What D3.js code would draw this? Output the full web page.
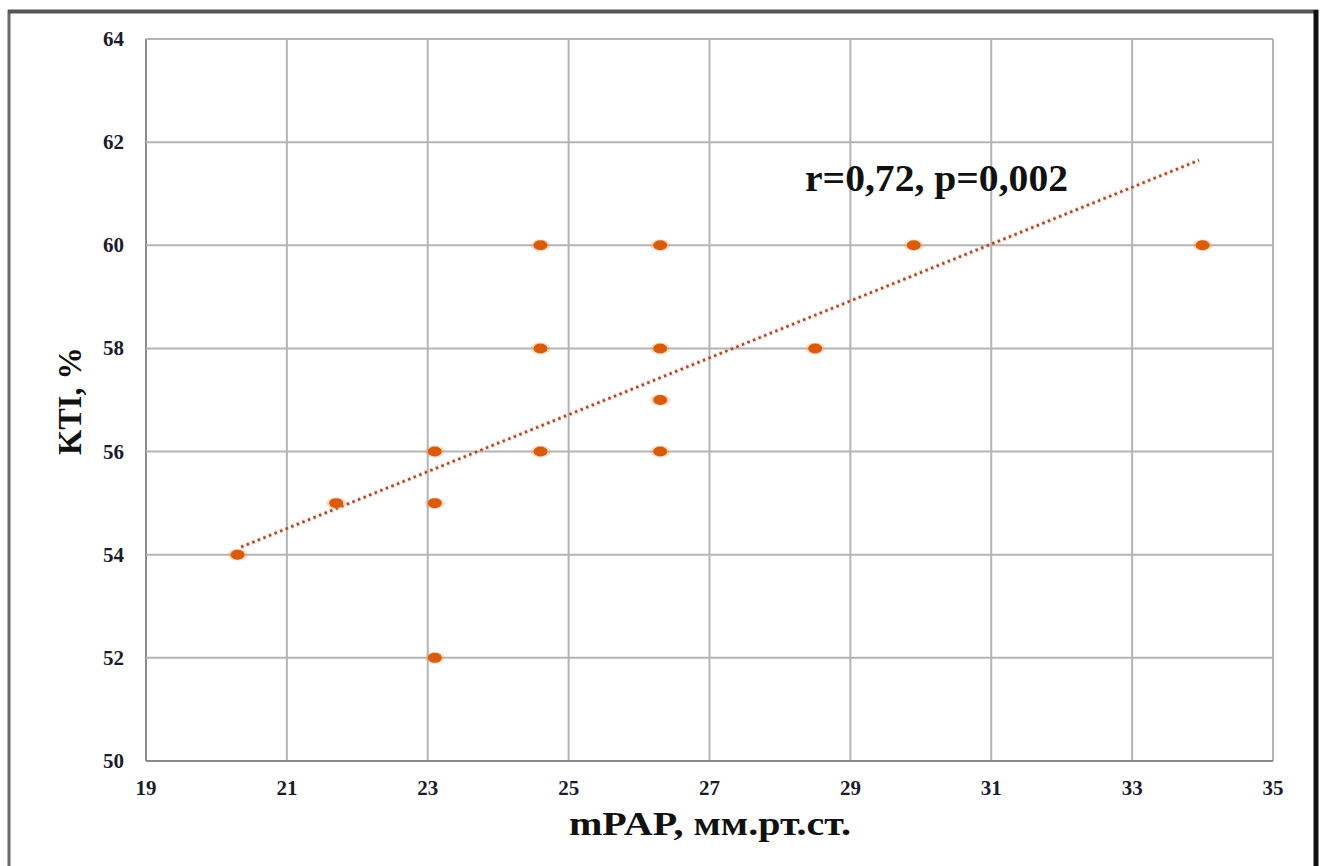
<!DOCTYPE html>
<html>
<head>
<meta charset="utf-8">
<script src="https://cdn.jsdelivr.net/npm/d3@7"></script>
<style>
  body { margin: 0; background: #fff; }
  svg { display: block; }
</style>
</head>
<body>
<div id="chart"></div>
<script>
// data
var mpap = [20.3, 21.7, 23.1, 23.1, 23.1, 24.6, 24.6, 24.6, 26.3, 26.3, 26.3, 26.3, 28.5, 29.9, 34.0];
var kti  = [54, 55, 56, 55, 52, 60, 58, 56, 60, 58, 57, 56, 58, 60, 60];
var trendX = [20.35, 33.95];
var trendY = [54.15, 61.65];
var xTicks = [19, 21, 23, 25, 27, 29, 31, 33, 35];
var yTicks = [50, 52, 54, 56, 58, 60, 62, 64];

var width = 1324, height = 866;
var margin = {left: 146, top: 39, right: 51, bottom: 105};

var svg = d3.select('#chart').append('svg')
  .attr('width', width)
  .attr('height', height);

// outer frame
svg.append('line').attr('x1', 9).attr('x2', 9).attr('y1', 10).attr('y2', height)
  .style('stroke', '#6a6a6a').style('stroke-width', 3);
svg.append('line').attr('x1', 8).attr('x2', 1318).attr('y1', 11.5).attr('y2', 11.5)
  .style('stroke', '#555').style('stroke-width', 4);
svg.append('line').attr('x1', 1316).attr('x2', 1316).attr('y1', 10).attr('y2', height)
  .style('stroke', '#111').style('stroke-width', 5);

var x = d3.scaleLinear().domain([19, 35]).range([margin.left, width - margin.right]);
var y = d3.scaleLinear().domain([50, 64]).range([height - margin.bottom, margin.top]);

var g = svg.append('g');

// grid
g.selectAll('.vgrid').data(xTicks).enter().append('line')
  .attr('x1', function(d){ return x(d); }).attr('x2', function(d){ return x(d); })
  .attr('y1', y(64)).attr('y2', y(50))
  .style('stroke', function(d){ return d === 19 ? '#8a8a8a' : '#b4b4b4'; })
  .style('stroke-width', 2);
g.selectAll('.hgrid').data(yTicks).enter().append('line')
  .attr('y1', function(d){ return y(d); }).attr('y2', function(d){ return y(d); })
  .attr('x1', x(19)).attr('x2', x(35))
  .style('stroke', function(d){ return d === 50 ? '#8a8a8a' : '#b4b4b4'; })
  .style('stroke-width', 2);

// tick labels
g.selectAll('.ylab').data(yTicks).enter().append('text')
  .attr('x', 124).attr('y', function(d){ return y(d) + 7; })
  .attr('text-anchor', 'end')
  .style('font-family', 'Liberation Serif, serif')
  .style('font-weight', 'bold')
  .style('font-size', '21px')
  .style('fill', '#1c1c2c')
  .text(function(d){ return d; });

g.selectAll('.xlab').data(xTicks).enter().append('text')
  .attr('x', function(d){ return x(d); }).attr('y', 795)
  .attr('text-anchor', 'middle')
  .style('font-family', 'Liberation Serif, serif')
  .style('font-weight', 'bold')
  .style('font-size', '21px')
  .style('fill', '#1c1c2c')
  .text(function(d){ return d; });

// axis titles
svg.append('text')
  .attr('x', 710).attr('y', 835)
  .attr('text-anchor', 'middle')
  .attr('textLength', 282)
  .attr('lengthAdjust', 'spacingAndGlyphs')
  .style('font-family', 'Liberation Serif, serif')
  .style('font-weight', 'bold')
  .style('font-size', '33px')
  .style('fill', '#111')
  .text('mPAP, мм.рт.ст.');

svg.append('text')
  .attr('transform', 'translate(81,401) rotate(-90)')
  .attr('text-anchor', 'middle')
  .attr('textLength', 108)
  .attr('lengthAdjust', 'spacingAndGlyphs')
  .style('font-family', 'Liberation Serif, serif')
  .style('font-weight', 'bold')
  .style('font-size', '33px')
  .style('fill', '#111')
  .text('KTI, %');

// trend line
var line = d3.line().x(function(d){ return x(d[0]); }).y(function(d){ return y(d[1]); });
g.append('path')
  .datum(d3.zip(trendX, trendY))
  .attr('d', line)
  .style('fill', 'none')
  .style('stroke', '#f4b090')
  .style('stroke-width', 5)
  .style('stroke-dasharray', '3,3')
  .style('opacity', 0.5);
g.append('path')
  .datum(d3.zip(trendX, trendY))
  .attr('d', line)
  .style('fill', 'none')
  .style('stroke', '#a8442a')
  .style('stroke-width', 2.5)
  .style('stroke-dasharray', '2.5,3.5');

// points
var pts = d3.zip(mpap, kti);
g.selectAll('.glow').data(pts).enter().append('ellipse')
  .attr('cx', function(d){ return x(d[0]); })
  .attr('cy', function(d){ return y(d[1]); })
  .attr('rx', 10).attr('ry', 6)
  .style('fill', '#f6a060').style('opacity', 0.35);
g.selectAll('.pt').data(pts).enter().append('ellipse')
  .attr('cx', function(d){ return x(d[0]); })
  .attr('cy', function(d){ return y(d[1]); })
  .attr('rx', 7).attr('ry', 5)
  .style('fill', '#d85c0c');

// annotation
svg.append('text')
  .attr('x', 805).attr('y', 191)
  .attr('textLength', 263)
  .attr('lengthAdjust', 'spacingAndGlyphs')
  .style('font-family', 'Liberation Serif, serif')
  .style('font-weight', 'bold')
  .style('font-size', '37px')
  .style('fill', '#111')
  .text('r=0,72, p=0,002');
</script>
</body>
</html>
